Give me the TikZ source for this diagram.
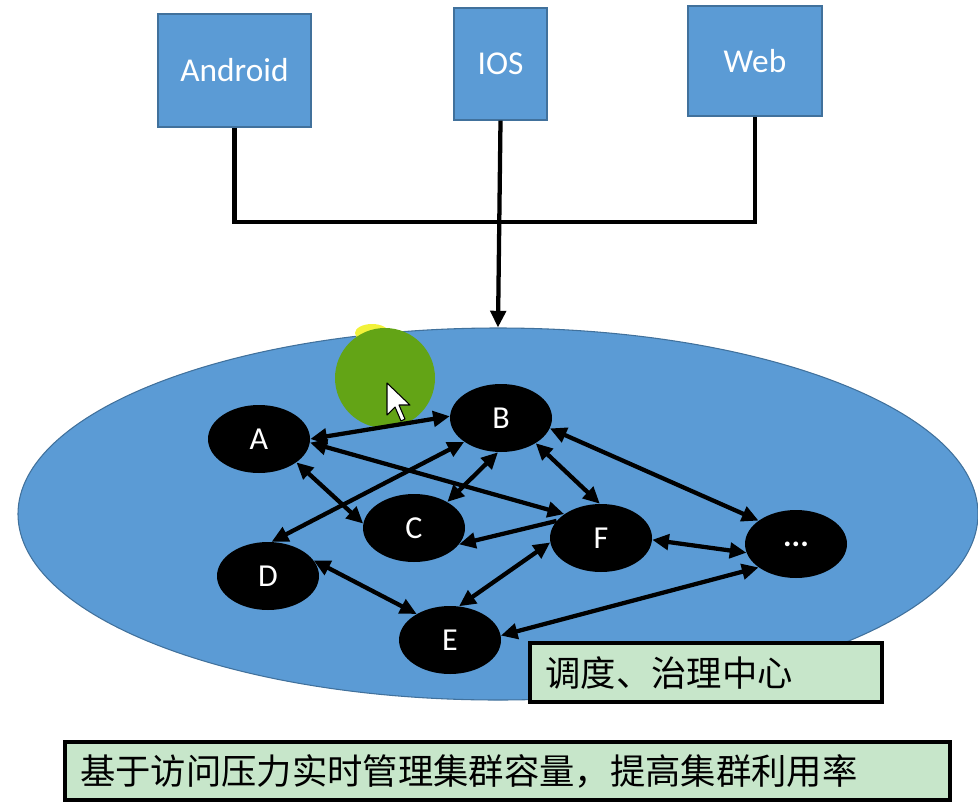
\documentclass[tikz,border=0pt]{standalone}
\usepackage{fontspec}
\setmainfont{Carlito}
\newfontfamily\cjk{Noto Sans CJK SC}
\usetikzlibrary{shapes.geometric,arrows.meta}
\definecolor{boxblue}{HTML}{5B9BD5}
\definecolor{boxedge}{HTML}{41719C}
\definecolor{labelgreen}{HTML}{C7E6CA}
\definecolor{spotgreen}{HTML}{63A416}
\definecolor{spotyellow}{HTML}{F2F23A}
\tikzset{
  client/.style={draw=boxedge, line width=1pt, fill=boxblue, text=white, font=\fontsize{25}{30}\selectfont, inner sep=0pt},
  svc/.style={ellipse, fill=black, text=white, minimum width=76.5pt, minimum height=51pt, inner sep=0pt, font=\fontsize{24}{28}\selectfont},
  link/.style={line width=3.2pt, {Triangle[length=12.5pt,width=11.5pt]}-{Triangle[length=12.5pt,width=11.5pt]}},
  onelink/.style={line width=3.2pt, -{Triangle[length=12.5pt,width=11.5pt]}},
  wire/.style={line width=3.2pt},
  note/.style={draw=black, line width=3pt, fill=labelgreen, font=\cjk\fontsize{26.5}{30}\selectfont, align=left, inner xsep=11pt, inner ysep=0pt, anchor=west}
}
\begin{document}
\begin{tikzpicture}[x=0.75pt, y=-0.75pt]
\useasboundingbox (0,0) rectangle (978,810);
% clients
\node[client, minimum width=114.75pt, minimum height=84.75pt] (android) at (234.5,70.5) {Android};
\node[client, minimum width=69.75pt, minimum height=84pt] (ios) at (500.5,64) {IOS};
\node[client, minimum width=100.5pt, minimum height=82.5pt] (web) at (755,61) {Web};
% cluster
\node[ellipse, draw=boxedge, line width=0.8pt, fill=boxblue, minimum width=720pt, minimum height=279pt, inner sep=0pt] (cluster) at (498,514) {};
% wiring
\coordinate (join) at (500,222);
\draw[wire] (android.south) |- (join) -| (web.south);
\draw[onelink] (ios.south) -- (cluster.north);
% screen-recording spot and pointer
\fill[spotyellow] (372,333) ellipse[x radius=17, y radius=9];
\fill[spotgreen] (385,378) circle[radius=50];
% services
\node[svc] (A) at (259,439) {A};
\node[svc] (B) at (501,418) {B};
\node[svc] (C) at (414,528) {C};
\node[svc] (D) at (268,576) {D};
\node[svc] (E) at (450,640) {E};
\node[svc] (F) at (601,538) {F};
\node[svc, font=\bfseries\fontsize{24}{28}\selectfont] (dots) at (796,544) {...};
% connectors
\draw[link] (A.0) -- (B.178);
\draw[link] (A.-4) -- (F.147);
\draw[link] (A.-32) -- (C.175);
\draw[link] (B.213) -- (D.84);
\draw[link] (B.265) -- (C.38);
\draw[link] (B.-36) -- (F.92);
\draw[link] (B.-12) -- (dots.148);
\draw[onelink] (F.159) -- (C.-20);
\draw[link] (D.19) -- (E.142);
\draw[link] (E.75) -- (F.185);
\draw[link] (F.-2) -- (dots.190);
\draw[link] (E.5) -- (dots.212);
% pointer
\draw[fill=white, line width=0.8pt, line join=round] (387,383) -- ++(0,32) -- ++(8,-8) -- ++(6,14) -- ++(4,-2) -- ++(-6,-14) -- ++(11,0) -- cycle;
% notes
\node[note, minimum width=264pt, minimum height=44.25pt, text width=241pt] (centre) at (528,672.5) {调度、治理中心};
\node[note, minimum width=663.75pt, minimum height=43.5pt, text width=641pt] (goal) at (63,771) {基于访问压力实时管理集群容量，提高集群利用率};
\end{tikzpicture}
\end{document}
